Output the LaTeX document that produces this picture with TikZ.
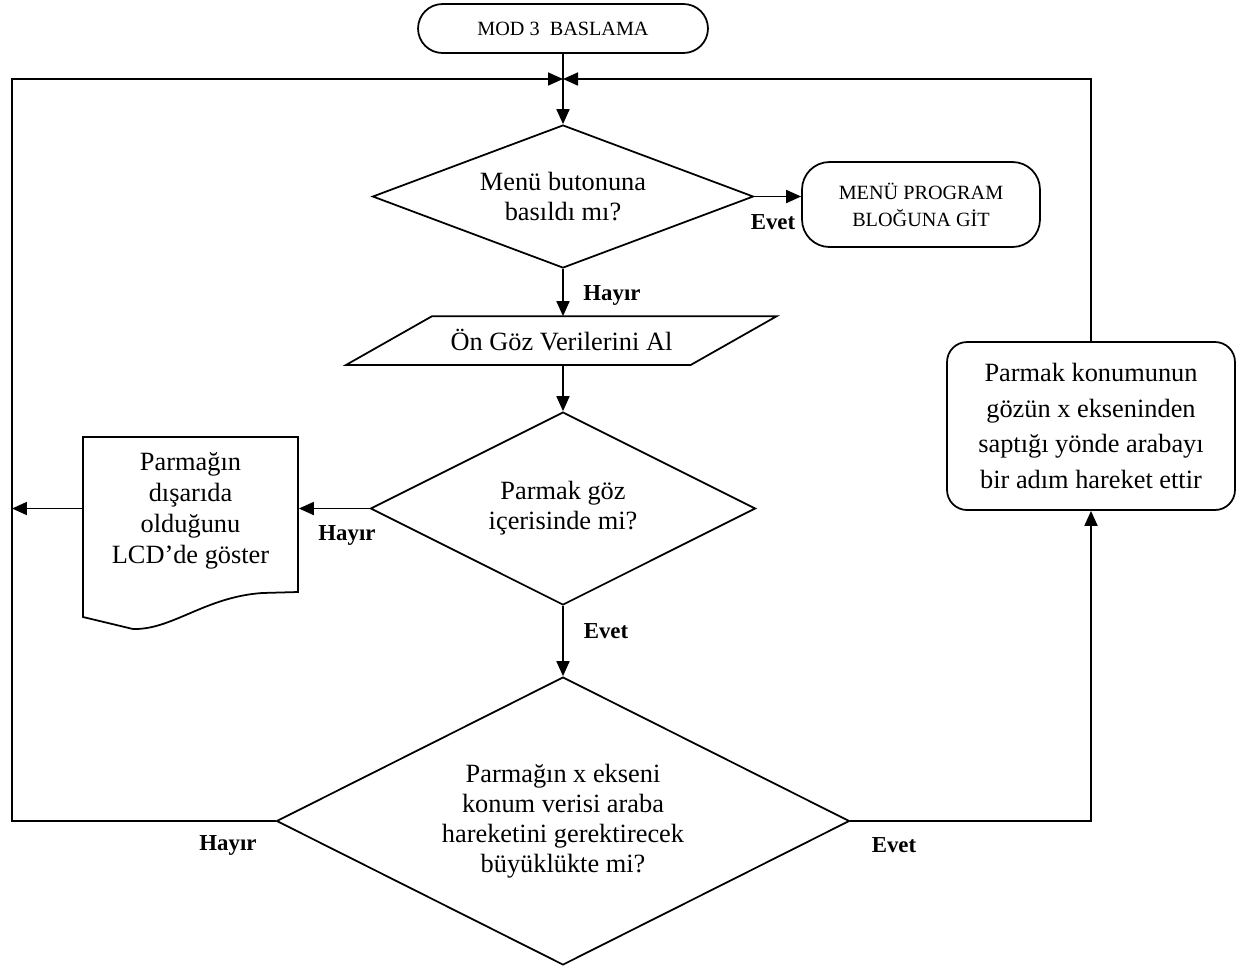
\documentclass[tikz,border=0pt]{standalone}
\usepackage{fontspec}
\setmainfont{Liberation Serif}
\usetikzlibrary{shapes.geometric, arrows.meta}

\begin{document}
\begin{tikzpicture}[x=0.02cm, y=-0.02cm,
  line width=1pt,
  every node/.style={inner sep=0pt},
  txt/.style={font=\fontsize{15}{17}\selectfont, align=center},
  small/.style={font=\fontsize{11.5}{15.3}\selectfont, align=center},
  lbl/.style={font=\fontsize{13}{15}\selectfont\bfseries},
  decision/.style={draw, diamond, txt},
  arr/.style={-{Triangle[length=0.3cm,width=0.26cm]}},
]
\useasboundingbox (0,0) rectangle (1250,968);

% terminals
\node[draw, rounded corners=0.49cm, minimum width=5.8cm, minimum height=0.98cm, small] (start) at (563,28.5) {MOD 3\ \ BASLAMA};
\node[draw, rounded corners=0.55cm, minimum width=4.76cm, minimum height=1.7cm, small] (menu) at (921,204.5) {MENÜ PROGRAM\\BLOĞUNA GİT};

% decisions
\node[decision, minimum width=7.62cm, minimum height=2.86cm, shape aspect=2.66] (d1) at (563,196.5) {Menü butonuna\\basıldı mı?};
\node[decision, minimum width=7.7cm, minimum height=3.86cm, shape aspect=2] (d2) at (563,508.5) {Parmak göz\\içerisinde mi?};
\node[decision, minimum width=11.46cm, minimum height=5.76cm, shape aspect=2] (d3) at (563,821) {Parmağın x ekseni\\konum verisi araba\\hareketini gerektirecek\\büyüklükte mi?};

% input (parallelogram)
\node[txt, minimum width=6.86cm, minimum height=0.94cm] (para) at (561.5,340.5) {Ön Göz Verilerini Al};
\draw ([xshift=-0.86cm]para.south west) -- ([xshift=0.86cm]para.north west)
  -- ([xshift=0.86cm]para.north east) -- ([xshift=-0.86cm]para.south east) -- cycle;

% display (document shape)
\node[minimum width=4.3cm, minimum height=3.6cm] (doc) at (190.5,527) {};
\draw (83,617) -- (83,437) -- (298,437) -- (298,592) -- (262,593)
  .. controls (205,597) and (172,630) .. (133,629) -- cycle;
\node[txt, font=\fontsize{15}{17.6}\selectfont] (doctext) at (190.5,511) {Parmağın\\dışarıda\\olduğunu\\LCD’de göster};

% process
\node[draw, rounded corners=0.4cm, minimum width=5.76cm, minimum height=3.36cm, txt, font=\fontsize{15}{20.4}\selectfont] (act) at (1091,426) {Parmak konumunun\\gözün x ekseninden\\saptığı yönde arabayı\\bir adım hareket ettir};

% loop points
\coordinate (join) at (563,79);
\coordinate (lc) at (12,79);

% connectors
\draw[arr] (start.south) -- (d1.north);
\draw[arr] (d3.west) -- (d3.west -| lc) -- (lc) -- (join);
\draw[arr] (act.north) |- (join);
\draw[arr] (d1.east) -- (menu.west |- d1.east);
\draw[arr] (d1.south) -- (para.north -| d1.south);
\draw[arr] (para.south -| d2.north) -- (d2.north);
\draw[arr] (d2.west) -- (doc.east |- d2.west);
\draw[arr] (doc.west |- d2.west) -- (d2.west -| lc);
\draw[arr] (d2.south) -- (d3.north);
\draw[arr] (d3.east) -| (act.south);

% branch labels
\node[lbl] (l1) at (773,222) {Evet};
\node[lbl] (l2) at (612,295) {Hayır};
\node[lbl] (l3) at (347,535) {Hayır};
\node[lbl] (l4) at (606,631) {Evet};
\node[lbl] (l5) at (228,845) {Hayır};
\node[lbl] (l6) at (894,845) {Evet};
\end{tikzpicture}
\end{document}
